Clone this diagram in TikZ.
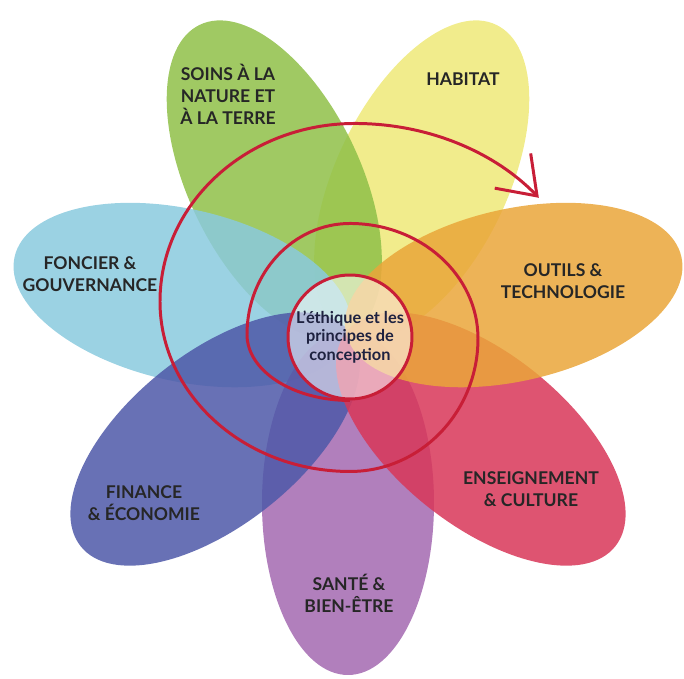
\documentclass[tikz,border=0pt]{standalone}
\usepackage{fontspec}
\setmainfont{Lato}
\usetikzlibrary{arrows.meta}
\definecolor{soinsgreen}{RGB}{143,192,72}
\definecolor{habitatyellow}{RGB}{238,233,120}
\definecolor{outilsorange}{RGB}{234,166,58}
\definecolor{ensred}{RGB}{216,54,88}
\definecolor{santepurple}{RGB}{163,104,176}
\definecolor{financeblue}{RGB}{78,88,168}
\definecolor{foncierblue}{RGB}{138,202,222}
\definecolor{ringred}{RGB}{200,30,55}
\definecolor{corenavy}{RGB}{30,34,64}
\begin{document}
\begin{tikzpicture}[x=0.02cm, y=0.02cm,
  petal/.style={fill opacity=0.85},
  label/.style={align=center, font=\bfseries\fontsize{10}{12.5}\selectfont, text=black!85},
  core/.style={circle, minimum size=2.48cm, inner sep=0pt, draw=ringred, line width=1.7pt,
    fill=white, fill opacity=0.55, text opacity=1, align=center,
    font=\bfseries\fontsize{9.3}{10.6}\selectfont, text=corenavy},
  spiral/.style={draw=ringred, line width=1.7pt,
    -{Straight Barb[length=0.7cm, width=1cm, line width=1.7pt]}}]
\useasboundingbox (-348,-346) rectangle (336,333);

\fill[petal, fill=habitatyellow, rotate=64.3] (170,0) ellipse [x radius=172, y radius=86];
\fill[petal, fill=soinsgreen, rotate=115.7] (170,0) ellipse [x radius=172, y radius=86];
\fill[petal, fill=foncierblue, rotate=167.1] (170,0) ellipse [x radius=172, y radius=86];
\fill[petal, fill=santepurple, rotate=-90] (170,0) ellipse [x radius=172, y radius=86];
\fill[petal, fill=financeblue, rotate=218.6] (170,0) ellipse [x radius=172, y radius=86];
\fill[petal, fill=ensred, rotate=-38.6] (170,0) ellipse [x radius=172, y radius=86];
\fill[petal, fill=outilsorange, rotate=12.9] (170,0) ellipse [x radius=172, y radius=86];

\node[core] (core) at (2,-4) {L’éthique et les\\principes de\\conception};

\node[label] (soins) at (-120,239) {SOINS À LA\\NATURE ET\\À LA TERRE};
\node[label] (habitat) at (115,254) {HABITAT};
\node[label] (foncier) at (-258,59) {FONCIER \&\\GOUVERNANCE};
\node[label] (outils) at (215,52) {OUTILS \&\\TECHNOLOGIE};
\node[label] (enseignement) at (183,-156) {ENSEIGNEMENT\\\& CULTURE};
\node[label] (finance) at (-204,-170) {FINANCE\\\& ÉCONOMIE};
\node[label] (sante) at (1,-260) {SANTÉ \&\\BIEN-ÊTRE};

\draw[spiral] (core.south)
  arc[start angle=-90, end angle=-180, x radius=103, y radius=66]
  arc[start angle=180, end angle=90, x radius=103, y radius=111]
  arc[start angle=90, end angle=0, x radius=128, y radius=115]
  arc[start angle=0, end angle=-90, x radius=128, y radius=133]
  arc[start angle=-90, end angle=-180, x radius=190, y radius=170]
  arc[start angle=180, end angle=90, x radius=195, y radius=178]
  arc[start angle=90, end angle=40, x radius=240, y radius=208] coordinate (tip);
\end{tikzpicture}
\end{document}
